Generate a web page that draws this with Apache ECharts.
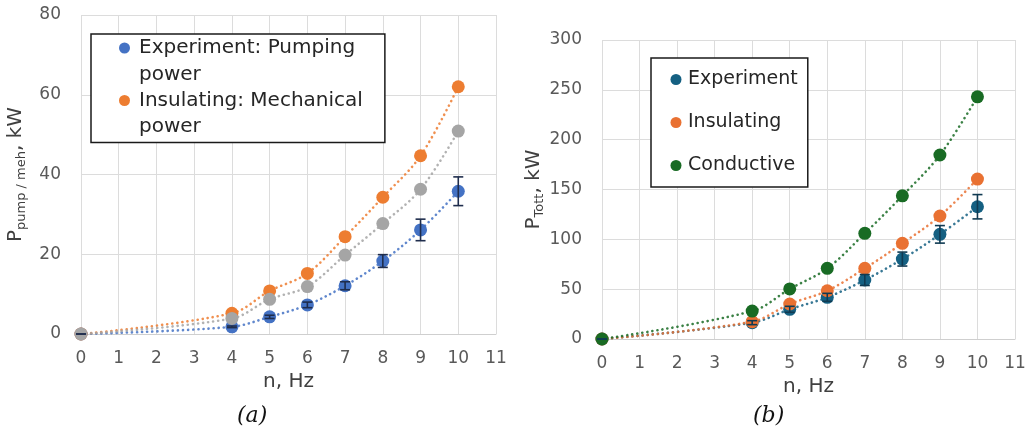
<!DOCTYPE html>
<html>
<head>
<meta charset="utf-8">
<script src="https://cdn.jsdelivr.net/npm/echarts@6/dist/echarts.min.js"></script>
<style>
  html, body { margin: 0; padding: 0; background: #fff; }
  #chart { width: 1032px; height: 432px; }
</style>
</head>
<body>
<div id="chart"></div>
<script>
// frequency, Hz
const hz = [0, 4, 5, 6, 7, 8, 9, 10];

// (a) pumping / mechanical power, kW
const pumpExp = [0, 1.8, 4.3, 7.3, 12.1, 18.3, 26.1, 35.8];
const pumpExpErr = [0, 0.2, 0.4, 0.7, 1.0, 1.6, 2.7, 3.6];
const mechIns = [0, 5.2, 10.8, 15.2, 24.4, 34.3, 44.7, 62.0];
const mechCond = [0, 3.9, 8.7, 11.9, 19.8, 27.7, 36.3, 50.9];

// (b) total power, kW
const totExp = [0, 16.4, 29.8, 41.8, 59.2, 80.2, 105, 132.7];
const totExpErr = [0, 2, 3, 4, 5.5, 7, 8.8, 12.2];
const totIns = [0, 17.4, 35.1, 48.4, 70.9, 96, 123.4, 160.5];
const totCond = [0, 28, 50.2, 70.9, 106, 143.7, 184.6, 243];

const legendA = ['Experiment: Pumping power', 'Insulating: Mechanical power'];
const legendB = ['Experiment', 'Insulating', 'Conductive'];

const FONT = 'DejaVu Sans';
const colA = { exp: '#4472C4', ins: '#ED7D31', cond: '#A5A5A5' };
const colB = { exp: '#156082', ins: '#E97132', cond: '#196B24' };

const pairs = (ys) => hz.map((x, i) => [x, ys[i]]);

function trend(name, ys, color, xi, z) {
    return {
        name: name, type: 'line', xAxisIndex: xi, yAxisIndex: xi,
        data: pairs(ys), smooth: 0.35, showSymbol: false, symbol: 'none',
        lineStyle: { color: color, width: 2.6, type: [0.1, 5], cap: 'round', opacity: 0.85 },
        z: z, silent: true
    };
}
function dots(name, ys, color, xi, z) {
    return {
        name: name, type: 'scatter', xAxisIndex: xi, yAxisIndex: xi,
        data: pairs(ys), symbolSize: 13,
        itemStyle: { color: color, opacity: 1 },
        z: z
    };
}
function errBars(ys, errs, color, xi) {
    return {
        type: 'custom', xAxisIndex: xi, yAxisIndex: xi, z: 10, silent: true,
        data: hz.map((x, i) => [x, ys[i], errs[i]]),
        encode: { x: 0, y: 1 },
        renderItem: function (params, api) {
            const x = api.value(0), y = api.value(1), e = api.value(2);
            const hi = api.coord([x, y + e]);
            const lo = api.coord([x, y - e]);
            const w = 5;
            const st = { stroke: color, lineWidth: 1.6 };
            return {
                type: 'group',
                children: [
                    { type: 'line', shape: { x1: hi[0], y1: hi[1], x2: lo[0], y2: lo[1] }, style: st },
                    { type: 'line', shape: { x1: hi[0] - w, y1: hi[1], x2: hi[0] + w, y2: hi[1] }, style: st },
                    { type: 'line', shape: { x1: lo[0] - w, y1: lo[1], x2: lo[0] + w, y2: lo[1] }, style: st }
                ]
            };
        }
    };
}

function xAxis(gi) {
    return {
        type: 'value', gridIndex: gi, min: 0, max: 11, interval: 1,
        name: 'n, Hz', nameLocation: 'middle', nameGap: 29,
        nameTextStyle: { fontFamily: FONT, fontSize: 20, color: '#404040' },
        axisLine: { show: true, lineStyle: { color: '#cfcfcf', width: 1 } },
        axisTick: { show: false },
        axisLabel: { fontFamily: FONT, fontSize: 17, color: '#595959', margin: 16 },
        splitLine: { show: true, lineStyle: { color: '#dcdcdc', width: 1 } }
    };
}
function yAxis(gi, max, interval, sub, gap) {
    return {
        type: 'value', gridIndex: gi, min: 0, max: max, interval: interval,
        name: '{p|P}{s|' + sub + '}{p|, kW}', nameLocation: 'middle', nameGap: gap,
        nameTextStyle: {
            color: '#404040',
            rich: {
                p: { fontFamily: FONT, fontSize: 20, lineHeight: 20, verticalAlign: 'top', color: '#404040' },
                s: { fontFamily: FONT, fontSize: 13, lineHeight: 14, padding: [9, 0, 0, 0], verticalAlign: 'top', color: '#404040' }
            }
        },
        axisLine: { show: false },
        axisTick: { show: false },
        axisLabel: { fontFamily: FONT, fontSize: 17, color: '#595959', margin: 20 },
        splitLine: { show: true, lineStyle: { color: '#dcdcdc', width: 1 } }
    };
}

const chart = echarts.init(document.getElementById('chart'), null, { renderer: 'canvas' });

const option = {
    animation: false,
    backgroundColor: '#ffffff',
    grid: [
        { left: 81, top: 15, width: 415, height: 319 },
        { left: 602, top: 40, width: 413, height: 299 }
    ],
    xAxis: [xAxis(0), xAxis(1)],
    yAxis: [yAxis(0, 80, 20, 'pump / meh', 55), yAxis(1, 300, 50, 'Tott', 56)],
    legend: [
        {
            data: legendA, selectedMode: false,
            left: 91, top: 34, orient: 'vertical',
            icon: 'none', itemWidth: 0, itemHeight: 14, itemGap: 6,
            padding: [4, 22, 5.5, 23],
            borderColor: '#1a1a1a', borderWidth: 1.5, backgroundColor: '#ffffff',
            formatter: function (name) {
                const words = name.split(' ');
                const last = words.pop();
                const key = name.indexOf('Experiment') === 0 ? 'b' : 'o';
                return '{' + key + '| }{g| }{t|' + words.join(' ') + '}\n{i| }{t|' + last + '}';
            },
            textStyle: {
                fontFamily: FONT, fontSize: 20, color: '#262626',
                rich: {
                    t: { fontFamily: FONT, fontSize: 20, lineHeight: 26.5, color: '#262626' },
                    b: { width: 11, height: 11, lineHeight: 11, borderRadius: 6, backgroundColor: colA.exp },
                    o: { width: 11, height: 11, lineHeight: 11, borderRadius: 6, backgroundColor: colA.ins },
                    g: { width: 9, fontSize: 4 },
                    i: { width: 20, fontSize: 4 }
                }
            }
        },
        {
            data: legendB, selectedMode: false,
            left: 651, top: 58, orient: 'vertical',
            icon: 'none', itemWidth: 0, itemHeight: 14, itemGap: 24,
            padding: [12, 10, 12, 14.5],
            borderColor: '#1a1a1a', borderWidth: 1.5, backgroundColor: '#ffffff',
            formatter: function (name) {
                const key = name === 'Experiment' ? 'b' : (name === 'Insulating' ? 'o' : 'c');
                return '{' + key + '| }{g| }{t|' + name + '}';
            },
            textStyle: {
                fontFamily: FONT, fontSize: 19, color: '#262626',
                rich: {
                    t: { fontFamily: FONT, fontSize: 19, lineHeight: 26, color: '#262626' },
                    b: { width: 11, height: 11, lineHeight: 11, borderRadius: 6, backgroundColor: colB.exp },
                    o: { width: 11, height: 11, lineHeight: 11, borderRadius: 6, backgroundColor: colB.ins },
                    c: { width: 11, height: 11, lineHeight: 11, borderRadius: 6, backgroundColor: colB.cond },
                    g: { width: 6.5, fontSize: 4 }
                }
            }
        }
    ],
    graphic: [
        {
            type: 'text', left: 237, top: 405,
            style: { text: '(a)', font: 'italic 22px "DejaVu Serif"', fill: '#111' }
        },
        {
            type: 'text', left: 753, top: 405,
            style: { text: '(b)', font: 'italic 22px "DejaVu Serif"', fill: '#111' }
        }
    ],
    series: [
        trend('Experiment: Pumping power', pumpExp, colA.exp, 0, 2),
        trend('Insulating: Mechanical power', mechIns, colA.ins, 0, 2),
        trend('Conductive: Mechanical power', mechCond, colA.cond, 0, 2),
        dots('Experiment: Pumping power', pumpExp, colA.exp, 0, 3),
        dots('Insulating: Mechanical power', mechIns, colA.ins, 0, 4),
        dots('Conductive: Mechanical power', mechCond, colA.cond, 0, 5),
        errBars(pumpExp, pumpExpErr, '#1f2d4d', 0),

        trend('Experiment', totExp, colB.exp, 1, 2),
        trend('Insulating', totIns, colB.ins, 1, 2),
        trend('Conductive', totCond, colB.cond, 1, 2),
        dots('Experiment', totExp, colB.exp, 1, 3),
        dots('Insulating', totIns, colB.ins, 1, 4),
        dots('Conductive', totCond, colB.cond, 1, 5),
        errBars(totExp, totExpErr, '#103a52', 1)
    ]
};

chart.setOption(option);
</script>
</body>
</html>
